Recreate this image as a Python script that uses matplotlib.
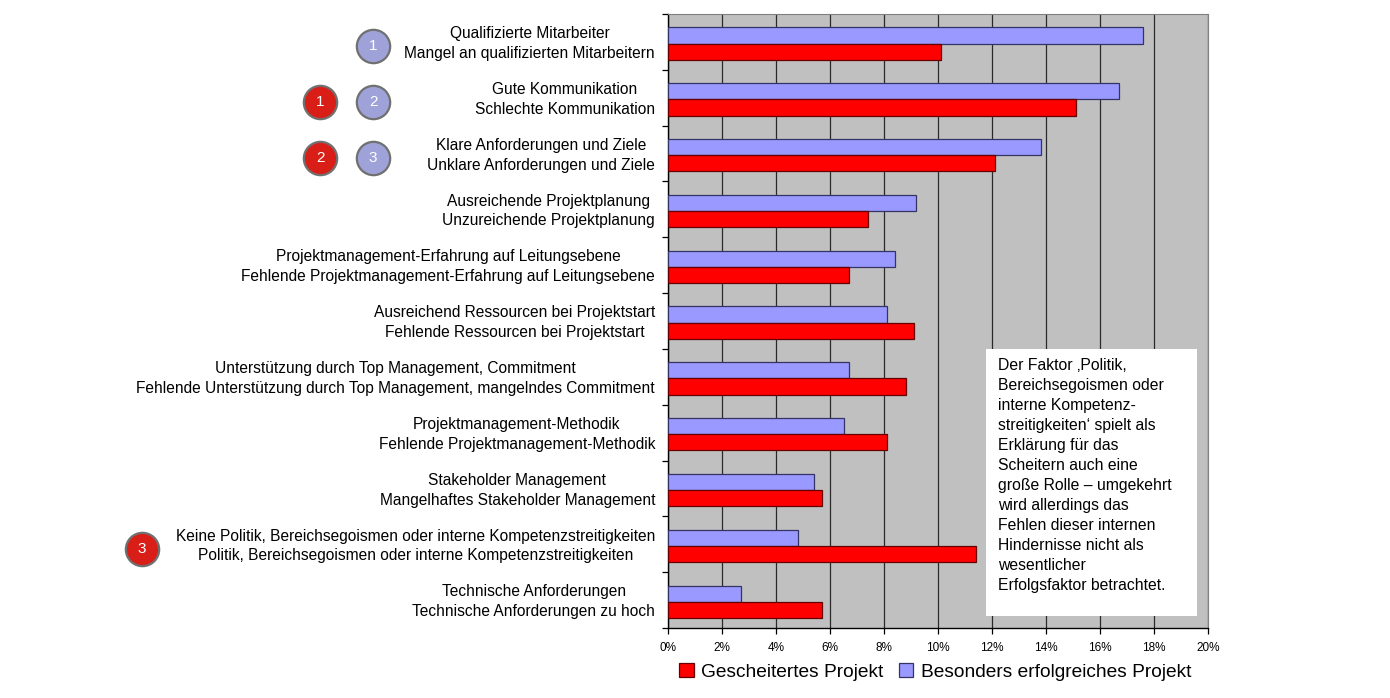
import matplotlib.pyplot as plt
from matplotlib.patches import Rectangle
from matplotlib.transforms import blended_transform_factory

plt.rcParams["font.family"] = ["Liberation Sans", "DejaVu Sans"]

# success factor (top line) / failure reason (bottom line)
labels_success = [
    "Qualifizierte Mitarbeiter",
    "Gute Kommunikation",
    "Klare Anforderungen und Ziele",
    "Ausreichende Projektplanung",
    "Projektmanagement-Erfahrung auf Leitungsebene",
    "Ausreichend Ressourcen bei Projektstart",
    "Unterstützung durch Top Management, Commitment",
    "Projektmanagement-Methodik",
    "Stakeholder Management",
    "Keine Politik, Bereichsegoismen oder interne Kompetenzstreitigkeiten",
    "Technische Anforderungen",
]
labels_failure = [
    "Mangel an qualifizierten Mitarbeitern",
    "Schlechte Kommunikation",
    "Unklare Anforderungen und Ziele",
    "Unzureichende Projektplanung",
    "Fehlende Projektmanagement-Erfahrung auf Leitungsebene",
    "Fehlende Ressourcen bei Projektstart",
    "Fehlende Unterstützung durch Top Management, mangelndes Commitment",
    "Fehlende Projektmanagement-Methodik",
    "Mangelhaftes Stakeholder Management",
    "Politik, Bereichsegoismen oder interne Kompetenzstreitigkeiten",
    "Technische Anforderungen zu hoch",
]
# values in percent
erfolgreich = [17.6, 16.7, 13.8, 9.2, 8.4, 8.1, 6.7, 6.5, 5.4, 4.8, 2.7]
gescheitert = [10.1, 15.1, 12.1, 7.4, 6.7, 9.1, 8.8, 8.1, 5.7, 11.4, 5.7]

# ranking badges: (group index, number, kind)
badges = [
    (0, "1", "success"),
    (1, "1", "failure"),
    (1, "2", "success"),
    (2, "2", "failure"),
    (2, "3", "success"),
    (9, "3", "failure"),
]

note = ("Der Faktor \u201aPolitik,\nBereichsegoismen oder\ninterne Kompetenz-\n"
        "streitigkeiten\u2018 spielt als\nErklärung für das\nScheitern auch eine\n"
        "große Rolle \u2013 umgekehrt\nwird allerdings das\nFehlen dieser internen\n"
        "Hindernisse nicht als\nwesentlicher\nErfolgsfaktor betrachtet.")

fig = plt.figure(figsize=(13.9, 6.98), dpi=100)
ax = fig.add_axes([0.4806, 0.1003, 0.3885, 0.8797])
ax.set_facecolor("#C0C0C0")

n = len(labels_success)
pos = list(range(n))
h = 0.29
ax.barh([p - h / 2 + 0.03 for p in pos], erfolgreich, height=h, color="#9999FF",
        edgecolor="#333366", linewidth=0.9, zorder=3)
ax.barh([p + h / 2 + 0.03 for p in pos], gescheitert, height=h, color="#FF0000",
        edgecolor="#660000", linewidth=0.9, zorder=3)

ax.set_xlim(0, 20)
ax.set_ylim(n - 0.5, -0.5)
ax.set_xticks(range(0, 21, 2))
ax.set_xticklabels([f"{v}%" for v in range(0, 21, 2)], fontsize=8.5)
ax.set_yticks([p - 0.5 for p in range(n + 1)])
ax.set_yticklabels([])
ax.tick_params(axis="both", direction="out", length=4, width=0.9, color="black")
ax.tick_params(axis="x", pad=6)
ax.grid(axis="x", color="#2a2a2a", linewidth=0.9, zorder=1)
for side in ["top", "right"]:
    ax.spines[side].set_color("#808080")
for side in ["left", "bottom"]:
    ax.spines[side].set_color("black")
    ax.spines[side].set_linewidth(1.0)

trans = blended_transform_factory(ax.transAxes, ax.transData)
for i in pos:
    ax.text(-0.024, i + 0.03, labels_success[i] + "\n" + labels_failure[i], transform=trans,
            ha="right", va="center", multialignment="center", fontsize=11.2, linespacing=1.4)

badge_x = {"success": -0.546, "failure": -0.644}
badge_col = {"success": "#9EA2D8", "failure": "#D91E18"}
for grp, num, kind in badges:
    x = badge_x[kind] if grp != 9 else -0.974
    ax.plot(x, grp + 0.08, "o", markersize=24, markerfacecolor=badge_col[kind],
            markeredgecolor="#707070", markeredgewidth=1.6, transform=trans, clip_on=False, zorder=5)
    ax.text(x, grp + 0.08, num, transform=trans, ha="center", va="center",
            color="white", fontsize=11, zorder=6, clip_on=False)

ax.add_patch(Rectangle((0.589, 0.0195), 0.391, 0.4345, transform=ax.transAxes,
                       facecolor="white", edgecolor="none", zorder=4))
ax.text(0.611, 0.439, note, transform=ax.transAxes, ha="left", va="top",
        fontsize=11.3, linespacing=1.41, zorder=5)

handles = [Rectangle((0, 0), 1, 1, facecolor="#FF0000", edgecolor="#660000", linewidth=0.9),
           Rectangle((0, 0), 1, 1, facecolor="#9999FF", edgecolor="#333366", linewidth=0.9)]
fig.legend(handles, ["Gescheitertes Projekt", "Besonders erfolgreiches Projekt"],
           loc="center", bbox_to_anchor=(0.673, 0.037), ncol=2, frameon=False,
           fontsize=13.8, handlelength=0.75, handleheight=0.75, handletextpad=0.4, columnspacing=0.8)

fig.savefig("out.png", dpi=100)
